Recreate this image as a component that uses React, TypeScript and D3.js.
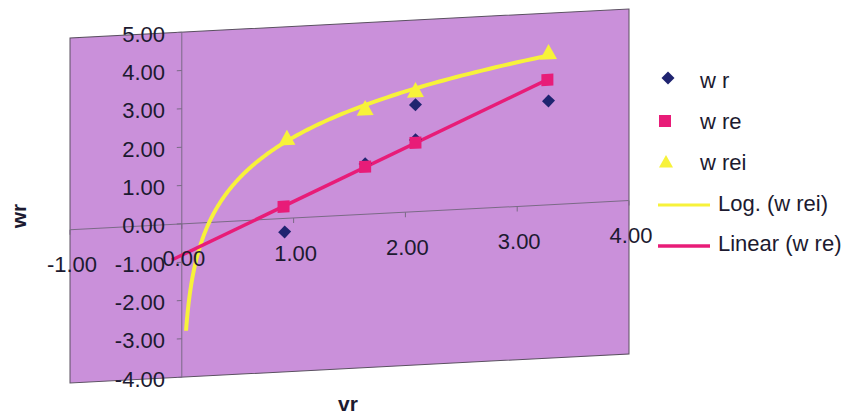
import React from "react";
import * as d3 from "d3";

// ---- data ----
const wrX = [0.92, 1.64, 2.09, 2.09, 3.28];
const wrY = [-0.35, 1.32, 2.79, 1.88, 2.71];
const wreX = [0.91, 1.64, 2.09, 3.27];
const wreY = [0.31, 1.24, 1.8, 3.26];
const wreiX = [0.94, 1.64, 2.09, 3.28];
const wreiY = [2.09, 2.76, 3.16, 3.97];
const xTicks = [-1, 0, 1, 2, 3, 4];
const yTicks = [-4, -3, -2, -1, 0, 1, 2, 3, 4, 5];
const legendLabels = ["w r", "w re", "w rei", "Log. (w rei)", "Linear (w re)"];
const linearBackward = 1.0;
const logStartX = 0.038;

const W = 848, H = 415;
const L = 70, R = 629, T = 38, B = 383;
const k = 0.052; // shear of the scanned page

const FONT = "'Liberation Sans', Arial, sans-serif";
const TXT = "#1c1a30";
const BG = "#ca90da";
const YEL = "#f7f23a";
const PINK = "#e81c78";
const NAVY = "#1f2470";

const sk = (px: number, py: number) => py - k * (px - L);
const fmt = (v: number) => d3.format(".2f")(v).replace("\u2212", "-");

function linReg(xs: number[], ys: number[]) {
  const mx = d3.mean(xs)!, my = d3.mean(ys)!;
  let sxy = 0, sxx = 0;
  xs.forEach((x, i) => { sxy += (x - mx) * (ys[i] - my); sxx += (x - mx) ** 2; });
  const m = sxy / sxx;
  return { m, b: my - m * mx };
}

export default function App() {
  const x = d3.scaleLinear().domain([-1, 4]).range([L, R]);
  const y = d3.scaleLinear().domain([-4, 5]).range([B, T]);

  const lin = linReg(wreX, wreY);
  const lx0 = d3.min(wreX)! - linearBackward, lx1 = d3.max(wreX)!;
  const lg = linReg(wreiX.map(Math.log), wreiY);
  const gx1 = d3.max(wreiX)!;
  const logPts: [number, number][] = d3.range(0, 201).map(i => {
    const t = i / 200;
    const xv = Math.exp(Math.log(logStartX) + t * (Math.log(gx1) - Math.log(logStartX)));
    return [xv, lg.m * Math.log(xv) + lg.b];
  });
  const line = d3.line<[number, number]>().x(d => x(d[0])).y(d => y(d[1]));

  const diamond = (cx: number, cy: number, r: number) =>
    `M${cx},${cy - r}L${cx + r},${cy}L${cx},${cy + r}L${cx - r},${cy}Z`;
  const tri = (cx: number, cy: number, r: number) =>
    `M${cx},${cy - r}L${cx + r},${cy + r * 0.8}L${cx - r},${cy + r * 0.8}Z`;

  const x0 = x(0), y0 = y(0);

  return (
    <svg width={W} height={H} style={{ position: "absolute", left: 0, top: 0, background: "#fff" }}
      fontFamily={FONT}>
      <rect x={0} y={0} width={W} height={H} fill="#fff" />
      <g transform={`matrix(1,${-k},0,1,0,${k * L})`}>
        <rect x={L} y={T} width={R - L} height={B - T} fill={BG} stroke="#5a5060" strokeWidth={1} />
        {/* axes */}
        <line x1={x0} x2={x0} y1={T} y2={B} stroke="#7a6a86" strokeWidth={1} />
        <line x1={L} x2={R} y1={y0} y2={y0} stroke="#7a6a86" strokeWidth={1} />
        {yTicks.map(v => (
          <line key={"yt" + v} x1={x0 - 5} x2={x0} y1={y(v)} y2={y(v)} stroke="#7a6a86" />
        ))}
        {xTicks.map(v => (
          <line key={"xt" + v} x1={x(v)} x2={x(v)} y1={y0} y2={y0 + 5} stroke="#7a6a86" />
        ))}
        {/* trendlines */}
        <path d={line(logPts)!} fill="none" stroke={YEL} strokeWidth={4} strokeLinejoin="round" />
        <path d={line([[lx0, lin.m * lx0 + lin.b], [lx1, lin.m * lx1 + lin.b]])!} fill="none"
          stroke={PINK} strokeWidth={3.5} />
        {/* markers */}
        {wrX.map((xv, i) => (
          <path key={"wr" + i} d={diamond(x(xv), y(wrY[i]), 6.5)} fill={NAVY} />
        ))}
        {wreX.map((xv, i) => (
          <rect key={"wre" + i} x={x(xv) - 6} y={y(wreY[i]) - 6} width={12} height={12} fill={PINK} />
        ))}
        {wreiX.map((xv, i) => (
          <path key={"wrei" + i} d={tri(x(xv), y(wreiY[i]), 8.5)} fill={YEL} />
        ))}
      </g>
      {/* tick labels */}
      {yTicks.map(v => (
        <text key={"yl" + v} x={165} y={sk(143, y(v))} textAnchor="end" dominantBaseline="central"
          fontSize={22} fill={TXT}>{fmt(v)}</text>
      ))}
      {xTicks.map(v => (
        <text key={"xl" + v} x={x(v) + 2} y={sk(x(v), y0) + 35} textAnchor="middle"
          dominantBaseline="central" fontSize={22} fill={TXT}>{fmt(v)}</text>
      ))}
      {/* axis titles */}
      <text x={0} y={0} transform="translate(18,216) rotate(-90)" textAnchor="middle"
        dominantBaseline="central" fontSize={21} fontWeight="bold" fill={TXT}>wr</text>
      <text x={348} y={403} textAnchor="middle" dominantBaseline="central" fontSize={21}
        fontWeight="bold" fill={TXT}>vr</text>
      {/* legend */}
      <path d={diamond(668, 78, 6.5)} fill={NAVY} />
      <rect x={659} y={115} width={12} height={12} fill={PINK} />
      <path d={tri(666, 162, 7)} fill={YEL} />
      <line x1={658} x2={710} y1={205} y2={205} stroke={YEL} strokeWidth={3} />
      <line x1={658} x2={710} y1={246} y2={246} stroke={PINK} strokeWidth={3.5} />
      {legendLabels.map((s, i) => (
        <text key={s} x={i < 3 ? 700 : 718} y={[80, 121, 162, 203, 243][i]} dominantBaseline="central"
          fontSize={22} fill={TXT}>{s}</text>
      ))}
    </svg>
  );
}
